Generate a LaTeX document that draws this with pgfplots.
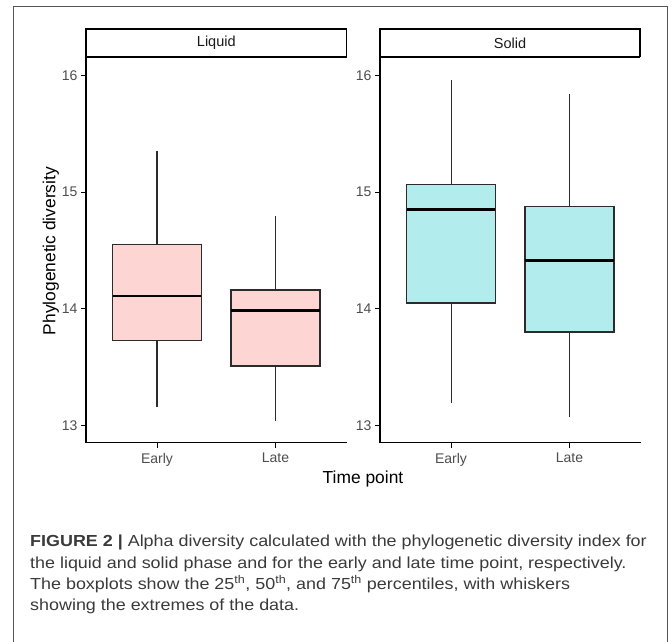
\documentclass[border=0pt]{standalone}
\usepackage{pgfplots}
\pgfplotsset{compat=1.18}
\usepackage{fontspec}
\setmainfont{Liberation Sans}
\newfontfamily\capfont[FakeStretch=1.12]{Liberation Sans}
\definecolor{pinkc}{HTML}{FDD6D3}
\definecolor{cyanc}{HTML}{B3ECED}
\definecolor{boxc}{HTML}{2B2B2B}
\definecolor{tickgray}{HTML}{4D4D4D}
\definecolor{captext}{HTML}{3A3A3A}
\definecolor{framec}{HTML}{555555}
\pgfplotsset{
  panel/.style={
    scale only axis, width=260.5pt, height=385.7pt,
    xmin=0.4, xmax=2.6, ymin=12.85, ymax=16.16,
    axis x line*=bottom, axis y line*=left,
    axis line style={line width=1.2pt,-,black},
    xtick={1,2}, xticklabels={Early,Late},
    ytick={13,14,15,16},
    tick align=outside, major tick length=5pt,
    tick style={line width=1pt,black},
    ticklabel style={font=\fontsize{14}{16}\selectfont, text=tickgray},
    xticklabel style={yshift=-2pt},
    /pgf/number format/assume math mode=true,
  },
}
% box: #1 x-left, #2 x-center, #3 x-right, #4 lower whisker, #5 lower quartile,
%      #6 median, #7 upper quartile, #8 upper whisker, #9 fill colour
\newcommand\bxp[9]{%
  \addplot[draw=boxc, line width=1.1pt] coordinates {(#2,#4) (#2,#5)};
  \addplot[draw=boxc, line width=1.1pt] coordinates {(#2,#7) (#2,#8)};
  \addplot[fill=#9, draw=boxc, line width=1.3pt, line join=miter] coordinates {(#1,#5) (#3,#5) (#3,#7) (#1,#7)} -- cycle;
  \addplot[draw=black, line width=2.4pt] coordinates {(#1,#6) (#3,#6)};
}
\begin{document}
\begin{tikzpicture}[x=1pt,y=1pt]
\useasboundingbox (0,0) rectangle (672,-641);
\draw[color=framec, line width=1pt] (13.3,-645) -- (13.3,-6.3) -- (667.7,-6.3) -- (667.7,-645);

% Liquid panel
\begin{axis}[panel, at={(86pt,-442.7pt)}, anchor=south west]
\bxp{0.625}{1}{1.375}{13.155}{13.725}{14.109}{14.548}{15.355}{pinkc}
\bxp{1.625}{2}{2.375}{13.04}{13.508}{13.983}{14.16}{14.797}{pinkc}
\end{axis}

% Solid panel
\begin{axis}[panel, at={(380pt,-442.7pt)}, anchor=south west]
\bxp{0.625}{1}{1.375}{13.19}{14.05}{14.85}{15.063}{15.96}{cyanc}
\bxp{1.625}{2}{2.375}{13.074}{13.80}{14.415}{14.876}{15.84}{cyanc}
\end{axis}

% strips
\draw[line width=1.2pt, fill=white] (86,-29) rectangle (346.7,-56.7);
\draw[line width=2.2pt] (86,-56.7) -- (346.7,-56.7);
\node[font=\fontsize{14.5}{16}\selectfont, text=black!90] at (216.3,-43) {Liquid};
\draw[line width=1.2pt, fill=white] (380,-29) rectangle (640,-56.7);
\draw[line width=2.2pt] (380,-56.7) -- (640,-56.7);
\node[font=\fontsize{14.5}{16}\selectfont, text=black!90] at (510,-43) {Solid};

% axis titles
\node[rotate=90, font=\fontsize{17.4}{20}\selectfont] at (51,-251) {Phylogenetic diversity};
\node[font=\fontsize{17.4}{20}\selectfont] at (363,-479) {Time point};

% caption
\begin{scope}[every node/.style={anchor=base west, inner sep=0pt, font=\capfont\fontsize{16}{18}\selectfont, text=captext}]
\node at (30,-546.7) {\textbf{FIGURE 2 |} Alpha diversity calculated with the phylogenetic diversity index for};
\node at (30,-568) {the liquid and solid phase and for the early and late time point, respectively.};
\node at (30,-589.3) {The boxplots show the 25\textsuperscript{th}, 50\textsuperscript{th}, and 75\textsuperscript{th} percentiles, with whiskers};
\node at (30,-610.6) {showing the extremes of the data.};
\end{scope}
\end{tikzpicture}
\end{document}
